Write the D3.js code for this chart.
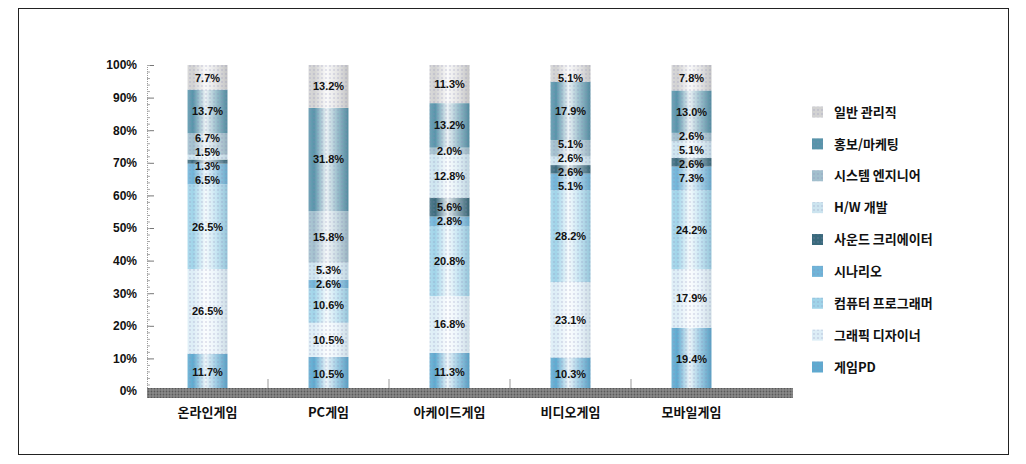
<!DOCTYPE html>
<html><head><meta charset="utf-8">
<script src="https://cdn.jsdelivr.net/npm/d3@7"></script>
<style>
html,body{margin:0;padding:0;background:#fff;}
svg{display:block;}
</style></head>
<body>
<svg id="chart" width="1026" height="464"></svg>
<script>
// ---- data ----
const categories = ["온라인게임","PC게임","아케이드게임","비디오게임","모바일게임"];
const seriesNames = ["게임PD","그래픽 디자이너","컴퓨터 프로그래머","시나리오","사운드 크리에이터","H/W 개발","시스템 엔지니어","홍보/마케팅","일반 관리직"];
const gamePD      = [11.7, 10.5, 11.3, 10.3, 19.4];
const graphic     = [26.5, 10.5, 16.8, 23.1, 17.9];
const programmer  = [26.5, 10.6, 20.8, 28.2, 24.2];
const scenario    = [6.5, 2.6, 2.8, 5.1, 7.3];
const sound       = [1.3, 0, 5.6, 2.6, 2.6];
const hardware    = [1.5, 5.3, 12.8, 2.6, 5.1];
const systemEng   = [6.7, 15.8, 2.0, 5.1, 2.6];
const marketing   = [13.7, 31.8, 13.2, 17.9, 13.0];
const generalMgmt = [7.7, 13.2, 11.3, 5.1, 7.8];
const yTicks = [0,0.1,0.2,0.3,0.4,0.5,0.6,0.7,0.8,0.9,1];

const seriesValues = [gamePD, graphic, programmer, scenario, sound, hardware, systemEng, marketing, generalMgmt];
const colors = ["#5eaad0","#dcedf6","#a0d4e9","#70b4d8","#3a6a7c","#cce4ef","#a2bfcd","#5894aa","#d2d2d2"];

const table = categories.map((c,i)=>{
  const o = {cat:c};
  seriesNames.forEach((s,j)=>{ o[s] = seriesValues[j][i]; });
  return o;
});

const svg = d3.select("#chart");

// frame
svg.append("rect").attr("x",18.5).attr("y",8.5).attr("width",990).attr("height",446)
  .attr("fill","#fff").attr("stroke","#222").attr("stroke-width",1);

const x = d3.scaleBand().domain(categories).range([147, 752]).paddingInner(0.67).paddingOuter(0.335);
const y = d3.scaleLinear().domain([0,1]).range([391, 65]);

const stack = d3.stack().keys(seriesNames).offset(d3.stackOffsetExpand);
const stacked = stack(table);

// gradients
const defs = svg.append("defs");
colors.forEach((c,i)=>{
  const g = defs.append("linearGradient").attr("id","g"+i).attr("x1","0").attr("x2","1").attr("y1","0").attr("y2","0");
  const base = d3.color(c);
  g.append("stop").attr("offset","0%").attr("stop-color", d3.interpolateRgb(c,"#ffffff")(0.15));
  g.append("stop").attr("offset","14%").attr("stop-color", c);
  g.append("stop").attr("offset","45%").attr("stop-color", d3.interpolateRgb(c,"#ffffff")(0.88));
  g.append("stop").attr("offset","72%").attr("stop-color", d3.interpolateRgb(c,"#ffffff")(0.4));
  g.append("stop").attr("offset","100%").attr("stop-color", base.darker(0.2).formatHex());
});
// halftone dots
const pat = defs.append("pattern").attr("id","dots").attr("width",4).attr("height",4).attr("patternUnits","userSpaceOnUse");
pat.append("circle").attr("cx",2).attr("cy",2).attr("r",0.9).attr("fill","#8a8ab8").attr("opacity",0.3);

// y axis
const yAxis = d3.axisLeft(y).tickValues(yTicks).tickFormat(d3.format(".0%")).tickSize(-7).tickPadding(10);
const ga = svg.append("g").attr("transform","translate(147,0)").call(yAxis);
ga.select(".domain").attr("stroke","#999").attr("stroke-dasharray","1,1");
ga.selectAll(".tick line").attr("stroke","#777");
ga.selectAll("text").attr("fill","#111").attr("font-family","'Liberation Sans Narrow','Liberation Sans',sans-serif")
  .attr("font-weight","bold").attr("font-size",12);
// minor ticks
const yMinor = d3.axisLeft(y).ticks(50).tickFormat("").tickSize(-3);
const gm = svg.append("g").attr("transform","translate(147,0)").call(yMinor);
gm.select(".domain").remove();
gm.selectAll(".tick line").attr("stroke","#aaa");

// bars
const barG = svg.append("g");
stacked.forEach((layer,si)=>{
  barG.selectAll(null).data(layer).enter().append("rect")
    .attr("x", d=>x(d.data.cat))
    .attr("width", x.bandwidth())
    .attr("y", d=>y(d[1]))
    .attr("height", d=>Math.max(0, y(d[0])-y(d[1])))
    .attr("fill", "url(#g"+si+")");
});
barG.selectAll(null).data(categories).enter().append("rect")
  .attr("x", d=>x(d)).attr("width", x.bandwidth()).attr("y", y(1)).attr("height", y(0)-y(1))
  .attr("fill","url(#dots)");

// category separators
svg.selectAll(null).data(categories.slice(1)).enter().append("line")
  .attr("x1", d=>x(d)-x.step()*x.paddingInner()/2).attr("x2", d=>x(d)-x.step()*x.paddingInner()/2)
  .attr("y1", 379).attr("y2", 389).attr("stroke","#999");

// base band
const hp = defs.append("pattern").attr("id","hatch").attr("width",3).attr("height",3).attr("patternUnits","userSpaceOnUse");
hp.append("rect").attr("width",3).attr("height",3).attr("fill","#8a8a8a");
hp.append("circle").attr("cx",1.5).attr("cy",1.5).attr("r",0.9).attr("fill","#5a5a5a");
svg.append("rect").attr("x",147).attr("y",388).attr("width",646).attr("height",10).attr("fill","url(#hatch)");

// value labels with relaxation
const labFont = "'Liberation Sans Narrow','Liberation Sans',sans-serif";
categories.forEach((c,ci)=>{
  const labs = [];
  stacked.forEach((layer,si)=>{
    const d = layer[ci];
    const v = seriesValues[si][ci];
    if (v > 0) labs.push({v, yc: (y(d[0])+y(d[1]))/2});
  });
  const gap = 14;
  labs.sort((a,b)=>b.yc-a.yc);
  for (let it=0; it<80; it++){
    for (let k=1;k<labs.length;k++){
      const diff = labs[k-1].yc - labs[k].yc;
      if (diff < gap){
        const push = (gap-diff)/2;
        labs[k-1].yc += push; labs[k].yc -= push;
      }
    }
    labs.forEach(l=>{ l.yc = Math.min(l.yc, 380); l.yc = Math.max(l.yc, 78); });
  }
  svg.selectAll(null).data(labs).enter().append("text")
    .attr("x", x(c)+x.bandwidth()/2).attr("y", d=>d.yc).attr("dy","0.35em")
    .attr("text-anchor","middle").attr("font-family",labFont).attr("font-weight","bold")
    .attr("font-size",11).attr("fill","#111")
    .text(d=>d.v.toFixed(1)+"%");
});

// category labels
svg.selectAll(null).data(categories).enter().append("text")
  .attr("x", d=>x(d)+x.bandwidth()/2).attr("y", 417).attr("text-anchor","middle")
  .attr("font-family","'Noto Sans CJK KR',sans-serif").attr("font-weight","bold").attr("font-size",13)
  .attr("fill","#111").text(d=>d);

// legend (top-down reversed order)
const legendItems = seriesNames.map((s,i)=>({s, i})).reverse();
const lg = svg.append("g");
const ly = d3.scalePoint().domain(legendItems.map(d=>d.s)).range([112, 367]);
lg.selectAll(null).data(legendItems).enter().append("rect")
  .attr("x", 812).attr("y", d=>ly(d.s)-5.5).attr("width", 11).attr("height", 11)
  .attr("fill", d=>colors[d.i]);
lg.selectAll(null).data(legendItems).enter().append("rect")
  .attr("x", 812).attr("y", d=>ly(d.s)-5.5).attr("width", 11).attr("height", 11)
  .attr("fill", "url(#dots)");
lg.selectAll(null).data(legendItems).enter().append("text")
  .attr("x", 834).attr("y", d=>ly(d.s)).attr("dy","0.36em")
  .attr("font-family","'Noto Sans CJK KR',sans-serif").attr("font-weight","bold").attr("font-size",13)
  .attr("fill","#111").text(d=>d.s);
</script>
</body></html>
